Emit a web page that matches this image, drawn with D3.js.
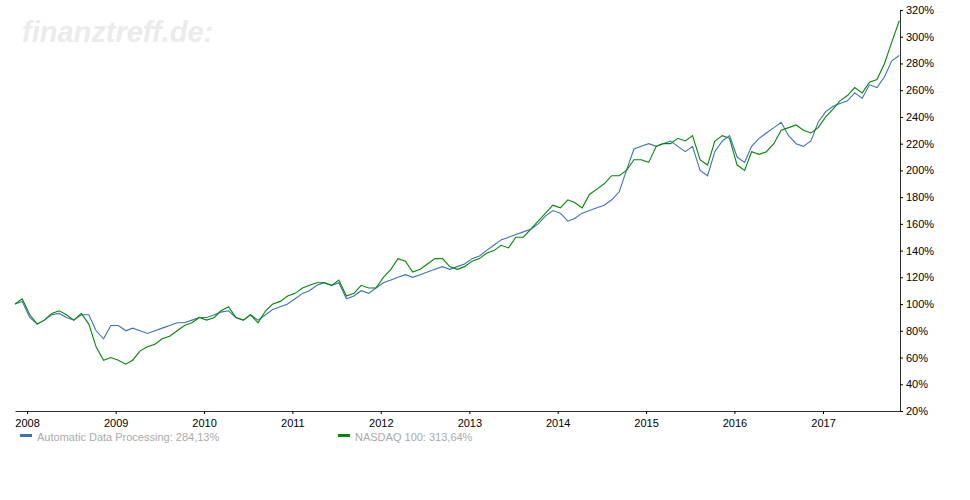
<!DOCTYPE html>
<html><head><meta charset="utf-8">
<script src="https://cdn.jsdelivr.net/npm/d3@7"></script>
<style>body{margin:0;background:#fff}svg{font-family:"Liberation Sans",Arial,sans-serif}</style>
</head><body><div id="chart"></div>
<script>
var startMonth = new Date(2007, 10, 12);
var adpValues = [100,102,90,85,88,92,93,90,88,92,92,80,74,84,84,80,82,80,78,80,82,84,86,86,88,90,
  90,92,94,95,90,88,92,88,92,96,98,100,104,108,110,114,116,114,116,104,106,110,108,112,
  116,118,120,122,120,122,124,126,128,126,128,130,134,136,140,144,148,150,152,154,156,160,166,170,
  168,162,164,168,170,172,174,178,184,200,216,218,220,218,220,222,218,214,218,200,196,214,222,226,
  210,206,218,224,228,232,236,226,220,218,222,236,244,248,250,252,258,254,264,262,270,282,286];
var ndxValues = [100,104,92,85,88,93,95,92,88,93,85,68,58,60,58,55,58,65,68,70,74,76,80,84,86,90,
  88,90,95,98,90,88,92,86,95,100,102,106,108,112,114,116,116,114,118,106,108,114,112,112,
  120,126,134,132,124,126,130,134,134,128,126,128,132,134,138,140,144,142,150,150,156,162,168,174,
  172,178,176,172,182,186,190,196,196,200,208,208,206,218,220,220,224,222,226,208,204,222,226,224,
  204,200,214,212,214,220,230,232,234,230,228,232,240,246,252,256,262,258,266,268,280,296,312];
var yTicks = [20,40,60,80,100,120,140,160,180,200,220,240,260,280,300,320];
var seriesNames = ["Automatic Data Processing: 284,13%", "NASDAQ 100: 313,64%"];
var seriesColors = ["#3d72b8", "#008a00"];

var W = 970, H = 500;
var svg = d3.select("#chart").append("svg").attr("width", W).attr("height", H);

var x = d3.scaleTime().domain([new Date(2007, 10, 12), new Date(2017, 10, 15)]).range([15, 900]);
var y = d3.scaleLinear().domain([20, 320]).range([411, 10]);

svg.append("text").attr("x", 22).attr("y", 42).text("finanztreff.de:")
  .attr("font-size", 29).attr("font-weight", "bold").attr("font-style", "italic").attr("fill", "#ebebeb");

var toPoints = function(vals) {
  return vals.map(function(v, i) {
    var d = new Date(startMonth.getFullYear(), startMonth.getMonth() + i, 12);
    return [d > x.domain()[1] ? x.domain()[1] : d, v];
  });
};
var line = d3.line().x(function(d) { return x(d[0]); }).y(function(d) { return y(d[1]); });

[adpValues, ndxValues].forEach(function(vals, i) {
  svg.append("path").datum(toPoints(vals)).attr("d", line)
    .attr("fill", "none").attr("stroke", seriesColors[i]).attr("stroke-width", 1.1);
});

var xAxis = svg.append("g").attr("transform", "translate(0,411)")
  .call(d3.axisBottom(x).ticks(d3.timeYear.every(1)).tickFormat(d3.timeFormat("%Y")).tickSize(3).tickSizeOuter(0));
xAxis.selectAll("text").attr("font-size", 11).attr("fill", "#000").attr("dy", "0.9em");
xAxis.select(".domain").attr("stroke", "#333");

var yAxis = svg.append("g").attr("transform", "translate(900,0)")
  .call(d3.axisRight(y).tickValues(yTicks).tickFormat(function(d) { return d + "%"; }).tickSize(3).tickSizeOuter(0));
yAxis.selectAll("text").attr("font-size", 11).attr("fill", "#000");
yAxis.select(".domain").attr("stroke", "#333");

var legendX = [20, 338];
seriesNames.forEach(function(n, i) {
  svg.append("rect").attr("x", legendX[i]).attr("y", 434).attr("width", 12).attr("height", 3).attr("fill", seriesColors[i]);
  svg.append("text").attr("x", legendX[i] + 17).attr("y", 441).text(n).attr("font-size", 11).attr("fill", "#aaa");
});
</script></body></html>
